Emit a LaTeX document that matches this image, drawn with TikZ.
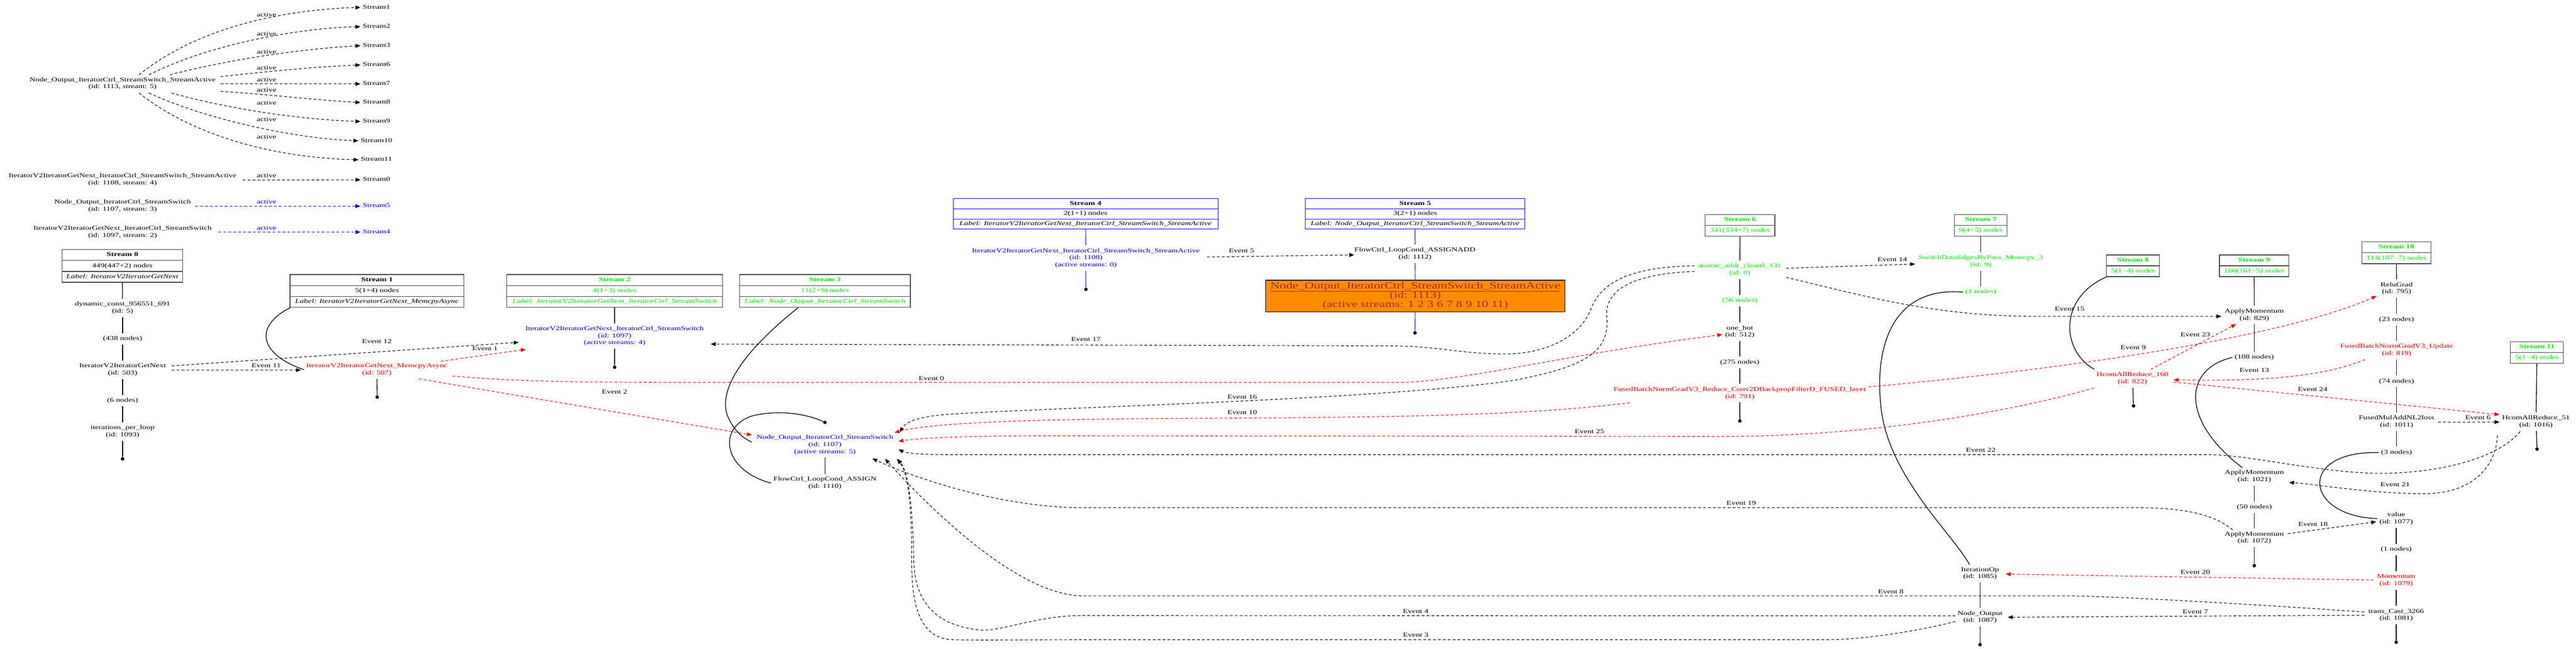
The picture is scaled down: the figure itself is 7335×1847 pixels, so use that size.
\documentclass[tikz,border=0pt]{standalone}
\usepackage{fontspec}
\setmainfont{Liberation Serif}
\usepackage{graphicx}
\usetikzlibrary{arrows.meta,calc}
\definecolor{gvgreen}{RGB}{0,255,0}
\definecolor{gvblue}{RGB}{0,0,255}
\definecolor{gvred}{RGB}{255,0,0}
\definecolor{gvorange}{RGB}{255,140,0}
\definecolor{gvbrown}{RGB}{165,42,42}
\newcommand{\tx}[1]{\scalebox{1}[0.73]{\begin{tabular}{@{}c@{}}#1\end{tabular}}}
\tikzset{
  txt/.style={inner sep=3pt, font=\fontsize{11.75}{13.7}\selectfont},
  gtxt/.style={txt, text=gvgreen},
  btxt/.style={txt, text=gvblue},
  rtxt/.style={txt, text=gvred},
  recrow/.style={draw=black!75, line width=1pt, minimum height=15.5pt, inner sep=0pt, font=\fontsize{11.75}{13.7}\selectfont},
  bluerow/.style={recrow, draw=gvblue, line width=0.6pt, minimum height=14.5pt},
  greenrow/.style={recrow, text=gvgreen},
  enddot/.style={circle, fill=black, inner sep=0pt, minimum size=5pt},
  chainln/.style={line width=1pt},
  bchainln/.style={line width=0.7pt, draw=gvblue},
  evk/.style={line width=0.8pt, dash pattern=on 4pt off 3pt, -{Triangle[length=7pt,width=5.5pt]}},
  evr/.style={evk, color=gvred},
  actb/.style={evk, color=gvblue},
  orangebox/.style={draw=black, line width=1pt, fill=gvorange, minimum width=426pt, minimum height=45pt, inner sep=0pt, text=gvbrown, font=\fontsize{18.3}{17.8}\selectfont},
}
\begin{document}
\begin{tikzpicture}[x=0.5pt, y=-0.5pt]
\fill[white] (0,0) rectangle (7335,1847);
\useasboundingbox (0,0) rectangle (7335,1847);

% ---------- stream activation fan-out ----------
\node[txt] (s1113) at (349,238) {\tx{Node\_Output\_IteratorCtrl\_StreamSwitch\_StreamActive\\(id: 1113, stream: 5)}};
\node[txt] (s1108) at (349,512) {\tx{IteratorV2IteratorGetNext\_IteratorCtrl\_StreamSwitch\_StreamActive\\(id: 1108, stream: 4)}};
\node[txt] (s1107) at (349,586) {\tx{Node\_Output\_IteratorCtrl\_StreamSwitch\\(id: 1107, stream: 3)}};
\node[txt] (s1097) at (349,661) {\tx{IteratorV2IteratorGetNext\_IteratorCtrl\_StreamSwitch\\(id: 1097, stream: 2)}};

\node[txt] (t1) at (1072,21) {\tx{Stream1}};
\node[txt] (t2) at (1072,76) {\tx{Stream2}};
\node[txt] (t3) at (1072,130) {\tx{Stream3}};
\node[txt] (t6) at (1072,185) {\tx{Stream6}};
\node[txt] (t7) at (1072,239) {\tx{Stream7}};
\node[txt] (t8) at (1072,292) {\tx{Stream8}};
\node[txt] (t9) at (1072,346) {\tx{Stream9}};
\node[txt] (t10) at (1072,401) {\tx{Stream10}};
\node[txt] (t11) at (1072,455) {\tx{Stream11}};
\node[txt] (t0) at (1072,512) {\tx{Stream0}};
\node[btxt] (t5) at (1072,587) {\tx{Stream5}};
\node[btxt] (t4) at (1072,661) {\tx{Stream4}};

\draw[evk] ($(s1113)+(47,-25)$) .. controls (560,80) and (800,28) .. (t1.west);
\draw[evk] ($(s1113)+(75,-25)$) .. controls (600,125) and (850,80) .. (t2.west);
\draw[evk] ($(s1113)+(135,-25)$) .. controls (650,170) and (850,140) .. (t3.west);
\draw[evk] ($(s1113)+(279,-20)$) .. controls (800,200) and (900,190) .. (t6.west);
\draw[evk] ($(s1113)+(279,1)$) -- (t7.west);
\draw[evk] ($(s1113)+(279,22)$) .. controls (800,272) and (900,285) .. (t8.west);
\draw[evk] ($(s1113)+(139,27)$) .. controls (650,310) and (850,340) .. (t9.west);
\draw[evk] ($(s1113)+(75,27)$) .. controls (600,345) and (850,395) .. (t10.west);
\draw[evk] ($(s1113)+(47,27)$) .. controls (560,395) and (800,450) .. (t11.west);
\draw[evk] ($(s1108)+(342,1)$) -- (t0.west);
\draw[actb] ($(s1107)+(207,1)$) -- (t5.west);
\draw[actb] ($(s1097)+(273,0)$) -- (t4.west);

\node[txt] (a1) at (759,43) {\tx{active}};
\node[txt] (a2) at (759,98) {\tx{active}};
\node[txt] (a3) at (759,150) {\tx{active}};
\node[txt] (a6) at (759,195) {\tx{active}};
\node[txt] (a7) at (759,228) {\tx{active}};
\node[txt] (a8) at (759,258) {\tx{active}};
\node[txt] (a9) at (759,295) {\tx{active}};
\node[txt] (a10) at (759,342) {\tx{active}};
\node[txt] (a11) at (759,391) {\tx{active}};
\node[txt] (a0) at (759,502) {\tx{active}};
\node[btxt] (a5) at (759,576) {\tx{active}};
\node[btxt] (a4) at (759,651) {\tx{active}};

% ---------- Stream 0 ----------
\node[recrow, minimum width=171.5pt] (s0a) at (348.5,726.5) {\tx{\textbf{Stream 0}}};
\node[recrow, minimum width=171.5pt] (s0b) at (348.5,757.5) {\tx{449(447+2) nodes}};
\node[recrow, minimum width=171.5pt] (s0c) at (348.5,788.5) {\tx{\textit{Label: IteratorV2IteratorGetNext}}};
\node[txt] (n5) at (349,877) {\tx{dynamic\_const\_956551\_691\\(id: 5)}};
\node[txt] (n438) at (349,965) {\tx{(438 nodes)}};
\node[txt] (n503) at (349,1053) {\tx{IteratorV2IteratorGetNext\\(id: 503)}};
\node[txt] (n6) at (349,1141) {\tx{(6 nodes)}};
\node[txt] (n1093) at (349,1229) {\tx{iterations\_per\_loop\\(id: 1093)}};
\node[enddot] (d0) at (349,1307) {};
\draw[chainln] (s0c) -- (n5);
\draw[chainln] (n5) -- (n438);
\draw[chainln] (n438) -- (n503);
\draw[chainln] (n503) -- (n6);
\draw[chainln] (n6) -- (n1093);
\draw[chainln] (n1093) -- (d0);

% ---------- Stream 1 ----------
\node[recrow, minimum width=247.5pt] (s1a) at (1073.5,797.5) {\tx{\textbf{Stream 1}}};
\node[recrow, minimum width=247.5pt] (s1b) at (1073.5,828.5) {\tx{5(1+4) nodes}};
\node[recrow, minimum width=247.5pt] (s1c) at (1073.5,859.5) {\tx{\textit{Label: IteratorV2IteratorGetNext\_MemcpyAsync}}};
\node[rtxt] (n507) at (1073,1053) {\tx{IteratorV2IteratorGetNext\_MemcpyAsync\\(id: 507)}};
\node[enddot] (d1) at (1074,1131) {};
\draw[chainln] ($(s1c.south west)+(2,0)$) .. controls (720,930) and (740,1010) .. (n507.west);
\draw[chainln] (n507) -- (d1);

% ---------- Stream 2 ----------
\node[greenrow, minimum width=307pt] (s2a) at (1750,797.5) {\tx{\textbf{Stream 2}}};
\node[greenrow, minimum width=307pt] (s2b) at (1750,828.5) {\tx{4(1+3) nodes}};
\node[greenrow, minimum width=307pt] (s2c) at (1750,859.5) {\tx{\textit{Label: IteratorV2IteratorGetNext\_IteratorCtrl\_StreamSwitch}}};
\node[btxt] (n1097) at (1750,957) {\tx{IteratorV2IteratorGetNext\_IteratorCtrl\_StreamSwitch\\(id: 1097)\\(active streams: 4)}};
\node[enddot] (d2) at (1750,1046) {};
\draw[chainln] (s2c) -- (n1097);
\draw[chainln] (n1097) -- (d2);

% ---------- Stream 3 ----------
\node[greenrow, minimum width=243pt] (s3a) at (2349,797.5) {\tx{\textbf{Stream 3}}};
\node[greenrow, minimum width=243pt] (s3b) at (2349,828.5) {\tx{11(2+9) nodes}};
\node[greenrow, minimum width=243pt] (s3c) at (2349,859.5) {\tx{\textit{Label: Node\_Output\_IteratorCtrl\_StreamSwitch}}};
\node[btxt] (n1107) at (2349,1267) {\tx{Node\_Output\_IteratorCtrl\_StreamSwitch\\(id: 1107)\\(active streams: 5)}};
\node[txt] (n1110) at (2349,1376) {\tx{FlowCtrl\_LoopCond\_ASSIGN\\(id: 1110)}};
\node[enddot] (d3) at (2349,1203) {};
\draw[chainln] ($(s3c.south west)+(168,0)$) .. controls (2180,950) and (2040,1080) .. (2070,1180) .. controls (2085,1220) and (2110,1245) .. ($(n1107)+(-209,-8)$);
\draw[chainln] (n1107) -- (n1110);
\draw[chainln] (n1110.west) .. controls (2060,1340) and (2040,1220) .. (2140,1185) .. controls (2220,1165) and (2300,1180) .. (d3);

% ---------- Stream 4 ----------
\node[bluerow, minimum width=377pt] (s4a) at (3091,580) {\tx{\textbf{Stream 4}}};
\node[bluerow, minimum width=377pt] (s4b) at (3091,609) {\tx{2(1+1) nodes}};
\node[bluerow, minimum width=377pt] (s4c) at (3091,638) {\tx{\textit{Label: IteratorV2IteratorGetNext\_IteratorCtrl\_StreamSwitch\_StreamActive}}};
\node[btxt] (n1108) at (3092,735) {\tx{IteratorV2IteratorGetNext\_IteratorCtrl\_StreamSwitch\_StreamActive\\(id: 1108)\\(active streams: 0)}};
\node[enddot] (d4) at (3092,824) {};
\draw[bchainln] (s4c) -- (n1108);
\draw[bchainln] (n1108) -- (d4);

% ---------- Stream 5 ----------
\node[bluerow, minimum width=312.5pt] (s5a) at (4029.5,580) {\tx{\textbf{Stream 5}}};
\node[bluerow, minimum width=312.5pt] (s5b) at (4029.5,609) {\tx{3(2+1) nodes}};
\node[bluerow, minimum width=312.5pt] (s5c) at (4029.5,638) {\tx{\textit{Label: Node\_Output\_IteratorCtrl\_StreamSwitch\_StreamActive}}};
\node[txt] (n1112) at (4029,723) {\tx{FlowCtrl\_LoopCond\_ASSIGNADD\\(id: 1112)}};
\node[orangebox] (n1113) at (4030,843) {\tx{\underline{Node\_Output\_IteratorCtrl\_StreamSwitch\_StreamActive}\\(id: 1113)\\(active streams: 1 2 3 6 7 8 9 10 11)}};
\node[enddot] (d5) at (4029,948) {};
\draw[bchainln] (s5c) -- (n1112);
\draw[bchainln] (n1112) -- (n1113);
\draw[bchainln] (n1113) -- (d5);

% ---------- Stream 6 ----------
\node[greenrow, minimum width=99.5pt] (s6a) at (4954.5,626.5) {\tx{\textbf{Stream 6}}};
\node[greenrow, minimum width=99.5pt] (s6b) at (4954.5,657.5) {\tx{341(334+7) nodes}};
\node[gtxt] (n0) at (4954,768) {\tx{atomic\_addr\_clean0\_131\\(id: 0)}};
\node[gtxt] (n56) at (4954,857) {\tx{(56 nodes)}};
\node[txt] (n512) at (4954,945) {\tx{one\_hot\\(id: 512)}};
\node[txt] (n275) at (4954,1032) {\tx{(275 nodes)}};
\node[rtxt] (n791) at (4954,1120) {\tx{FusedBatchNormGradV3\_Reduce\_Conv2DBackpropFilterD\_FUSED\_layer\\(id: 791)}};
\node[enddot] (d6) at (4954,1199) {};
\draw[chainln] (s6b) -- (n0);
\draw[chainln] (n0) -- (n56);
\draw[chainln] (n56) -- (n512);
\draw[chainln] (n512) -- (n275);
\draw[chainln] (n275) -- (n791);
\draw[chainln] (n791) -- (d6);

% ---------- Stream 7 ----------
\node[greenrow, minimum width=75pt] (s7a) at (5640,626.5) {\tx{\textbf{Stream 7}}};
\node[greenrow, minimum width=75pt] (s7b) at (5640,657.5) {\tx{9(4+5) nodes}};
\node[gtxt] (n9) at (5640,745) {\tx{SwitchDataEdgesByPass\_Memcpy\_3\\(id: 9)}};
\node[gtxt] (n1n) at (5640,832) {\tx{(1 nodes)}};
\node[txt] (n1085) at (5638,1633) {\tx{IterationOp\\(id: 1085)}};
\node[txt] (n1087) at (5638,1758) {\tx{Node\_Output\\(id: 1087)}};
\node[enddot] (d7) at (5638,1836) {};
\draw[chainln] (s7b) -- (n9);
\draw[chainln] (n9) -- (n1n);
\draw[chainln] (n1n.west) .. controls (5380,815) and (5340,1000) .. (5355,1150) .. controls (5370,1350) and (5560,1520) .. ($(n1085)+(-30,-25)$);
\draw[chainln] (n1085) -- (n1087);
\draw[chainln] (n1087) -- (d7);

% ---------- Stream 8 ----------
\node[greenrow, minimum width=75.5pt] (s8a) at (6073.5,741.5) {\tx{\textbf{Stream 8}}};
\node[greenrow, minimum width=75.5pt] (s8b) at (6073.5,772.5) {\tx{5(1−4) nodes}};
\node[rtxt] (n822) at (6072,1078) {\tx{HcomAllReduce\_160\\(id: 822)}};
\node[enddot] (d8) at (6075,1156) {};
\draw[chainln] (s8b.south west) .. controls (5860,850) and (5870,1000) .. (n822.north west);
\draw[chainln] (n822) -- (d8);

% ---------- Stream 9 ----------
\node[greenrow, minimum width=98.5pt] (s9a) at (6418.5,741.5) {\tx{\textbf{Stream 9}}};
\node[greenrow, minimum width=98.5pt] (s9b) at (6418.5,772.5) {\tx{166(161−5) nodes}};
\node[txt] (n829) at (6419,897) {\tx{ApplyMomentum\\(id: 829)}};
\node[txt] (n108) at (6419,1018) {\tx{(108 nodes)}};
\node[txt] (n1021) at (6419,1357) {\tx{ApplyMomentum\\(id: 1021)}};
\node[txt] (n50) at (6419,1445) {\tx{(50 nodes)}};
\node[txt] (n1072) at (6419,1532) {\tx{ApplyMomentum\\(id: 1072)}};
\node[enddot] (d9) at (6419,1611) {};
\draw[chainln] (s9b) -- (n829);
\draw[chainln] (n829) -- (n108);
\draw[chainln] (n108.west) .. controls (6215,1050) and (6210,1200) .. ($(n1021)+(-34,-25)$);
\draw[chainln] (n1021) -- (n50);
\draw[chainln] (n50) -- (n1072);
\draw[chainln] (n1072) -- (d9);

% ---------- Stream 10 ----------
\node[greenrow, minimum width=98.5pt] (s10a) at (6823.5,704.5) {\tx{\textbf{Stream 10}}};
\node[greenrow, minimum width=98.5pt] (s10b) at (6823.5,735.5) {\tx{114(107−7) nodes}};
\node[txt] (n795) at (6824,822) {\tx{ReluGrad\\(id: 795)}};
\node[txt] (n23) at (6824,910) {\tx{(23 nodes)}};
\node[rtxt] (n819) at (6824,997) {\tx{FusedBatchNormGradV3\_Update\\(id: 819)}};
\node[txt] (n74) at (6824,1086) {\tx{(74 nodes)}};
\node[txt] (n1011) at (6824,1201) {\tx{FusedMulAddNL2loss\\(id: 1011)}};
\node[txt] (n3n) at (6824,1289) {\tx{(3 nodes)}};
\node[txt] (n1077) at (6823,1477) {\tx{value\\(id: 1077)}};
\node[txt] (n1nb) at (6823,1565) {\tx{(1 nodes)}};
\node[rtxt] (n1079) at (6823,1653) {\tx{Momentum\\(id: 1079)}};
\node[txt] (n1081) at (6823,1752) {\tx{trans\_Cast\_3266\\(id: 1081)}};
\node[enddot] (d10) at (6823,1829) {};
\draw[chainln] (s10b) -- (n795);
\draw[chainln] (n795) -- (n23);
\draw[chainln] (n23) -- (n819);
\draw[chainln] (n819) -- (n74);
\draw[chainln] (n74) -- (n1011);
\draw[chainln] (n1011) -- (n3n);
\draw[chainln] (n3n.west) .. controls (6540,1283) and (6560,1470) .. (n1077.west);
\draw[chainln] (n1077) -- (n1nb);
\draw[chainln] (n1nb) -- (n1079);
\draw[chainln] (n1079) -- (n1081);
\draw[chainln] (n1081) -- (d10);

% ---------- Stream 11 ----------
\node[greenrow, minimum width=75.5pt] (s11a) at (7223.5,988.5) {\tx{\textbf{Stream 11}}};
\node[greenrow, minimum width=75.5pt] (s11b) at (7223.5,1019.5) {\tx{5(1−4) nodes}};
\node[txt] (n1016) at (7221,1201) {\tx{HcomAllReduce\_51\\(id: 1016)}};
\node[enddot] (d11) at (7224,1279) {};
\draw[chainln] (s11b) -- (n1016);
\draw[chainln] (n1016) -- (d11);

% ---------- events ----------
\draw[evk] ($(n503)+(140,1)$) -- ($(n507)+(-216,1)$);
\draw[evk] ($(n503)+(140,-11)$) -- ($(n1097)+(-273,18)$);
\draw[evr] ($(n507)+(182,-24)$) -- ($(n1097)+(-253,38)$);
\draw[evr] ($(n507)+(120,26)$) -- ($(n1107)+(-208,-28)$);
\draw[evr] ($(n507)+(215,18)$) .. controls (1500,1089) and (1700,1089) .. (2000,1089) -- (4000,1089) .. controls (4200,1080) and (4450,1010) .. ($(n512)+(-50,8)$);
\draw[evk] ($(n0)+(-129,-11)$) .. controls (4650,760) and (4560,800) .. (4530,880) .. controls (4500,960) and (4400,1008) .. (4287,1008) .. controls (4150,1008) and (4100,985) .. (3950,985) -- ($(n1097)+(274,23)$);
\draw[evk] ($(n0)+(-129,5)$) .. controls (4640,780) and (4570,830) .. (4575,900) .. controls (4585,1000) and (4520,1045) .. (4300,1085) .. controls (3900,1140) and (3000,1160) .. (2700,1180) .. controls (2620,1186) and (2580,1200) .. ($(n1107)+(213,-36)$);
\draw[evr] ($(n791)+(-313,27)$) .. controls (4300,1190) and (3800,1189) .. (3300,1192) .. controls (2900,1195) and (2650,1205) .. ($(n1107)+(198,-35)$);
\draw[evr] ($(n822)+(-110,27)$) .. controls (5700,1180) and (5300,1243) .. (4900,1243) -- (3000,1241) .. controls (2700,1241) and (2600,1250) .. ($(n1107)+(209,-10)$);
\draw[evk] ($(n1016)+(-45,28)$) .. controls (7100,1320) and (6900,1350) .. (6766,1348) .. controls (6600,1345) and (6400,1295) .. (6289,1295) -- (2700,1295) .. controls (2620,1295) and (2580,1290) .. ($(n1107)+(209,13)$);
\draw[evk] ($(n1072)+(-62,-23)$) .. controls (6300,1460) and (6200,1446) .. (6085,1446) -- (3084,1446) .. controls (2850,1446) and (2600,1360) .. ($(n1107)+(135,39)$);
\draw[evk] ($(n1081)+(-91,-9)$) .. controls (6400,1720) and (6000,1697) .. (5881,1697) -- (3084,1697) .. controls (2900,1697) and (2650,1450) .. ($(n1107)+(171,40)$);
\draw[evk] ($(n1087)+(-70,-4)$) -- (3084,1753) .. controls (2950,1753) and (2850,1800) .. (2789,1794) .. controls (2650,1780) and (2605,1700) .. (2602,1600) .. controls (2598,1450) and (2590,1350) .. ($(n1107)+(207,40)$);
\draw[evk] ($(n1087)+(-70,12)$) .. controls (5450,1800) and (5300,1822) .. (5200,1822) -- (3084,1822) .. controls (2900,1822) and (2760,1825) .. (2700,1821) .. controls (2610,1810) and (2596,1700) .. (2596,1600) .. controls (2596,1450) and (2588,1350) .. ($(n1107)+(205,40)$);
\draw[evk] ($(n1108)+(345,-3)$) -- ($(n1112)+(-173,3)$);
\draw[evk] ($(n0)+(132,-4)$) -- ($(n9)+(-187,7)$);
\draw[evk] ($(n0)+(132,22)$) .. controls (5300,840) and (5500,901) .. (5800,901) -- ($(n829)+(-94,4)$);
\draw[evr] ($(n791)+(366,-18)$) .. controls (5900,1050) and (6500,960) .. ($(n795)+(-57,21)$);
\draw[evr] ($(n822)+(52,-26)$) -- ($(n829)+(-52,26)$);
\draw[evr] ($(n819)+(-90,27)$) .. controls (6600,1080) and (6400,1085) .. ($(n822)+(117,4)$);
\draw[evr] ($(n822)+(117,10)$) -- ($(n1016)+(-104,-20)$);
\draw[evk] ($(n1011)+(118,1)$) -- ($(n1016)+(-104,1)$);
\draw[evk] ($(n1016)+(-110,39)$) .. controls (7108,1320) and (7050,1406) .. (6902,1406) .. controls (6750,1406) and (6600,1380) .. ($(n1021)+(99,17)$);
\draw[evk] ($(n1072)+(95,-12)$) -- ($(n1077)+(-57,9)$);
\draw[evr] ($(n1079)+(-64,-1)$) -- ($(n1085)+(73,2)$);
\draw[evk] ($(n1081)+(-91,0)$) -- ($(n1087)+(79,0)$);

\node[txt] (e0) at (2652,1079) {\tx{Event 0}};
\node[txt] (e1) at (1381,994) {\tx{Event 1}};
\node[txt] (e2) at (1750,1118) {\tx{Event 2}};
\node[txt] (e3) at (4031,1810) {\tx{Event 3}};
\node[txt] (e4) at (4031,1743) {\tx{Event 4}};
\node[txt] (e5) at (3535,716) {\tx{Event 5}};
\node[txt] (e6) at (7056,1191) {\tx{Event 6}};
\node[txt] (e7) at (6251,1744) {\tx{Event 7}};
\node[txt] (e8) at (5384,1686) {\tx{Event 8}};
\node[txt] (e9) at (6074,991) {\tx{Event 9}};
\node[txt] (e10) at (3537,1176) {\tx{Event 10}};
\node[txt] (e11) at (758,1043) {\tx{Event 11}};
\node[txt] (e12) at (1073,974) {\tx{Event 12}};
\node[txt] (e13) at (6419,1056) {\tx{Event 13}};
\node[txt] (e14) at (5388,741) {\tx{Event 14}};
\node[txt] (e15) at (5893,882) {\tx{Event 15}};
\node[txt] (e16) at (3537,1132) {\tx{Event 16}};
\node[txt] (e17) at (3092,968) {\tx{Event 17}};
\node[txt] (e18) at (6586,1494) {\tx{Event 18}};
\node[txt] (e19) at (4958,1435) {\tx{Event 19}};
\node[txt] (e20) at (6251,1631) {\tx{Event 20}};
\node[txt] (e21) at (6820,1381) {\tx{Event 21}};
\node[txt] (e22) at (5640,1283) {\tx{Event 22}};
\node[txt] (e23) at (6251,954) {\tx{Event 23}};
\node[txt] (e24) at (6585,1110) {\tx{Event 24}};
\node[txt] (e25) at (4526,1230) {\tx{Event 25}};
\end{tikzpicture}
\end{document}
